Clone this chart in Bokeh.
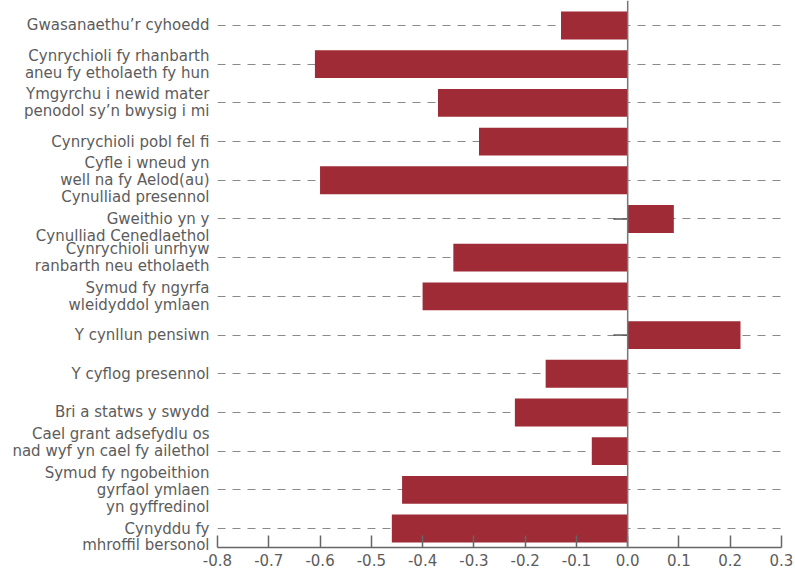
from bokeh.plotting import figure
from bokeh.models import Range1d, FixedTicker, Span, NumeralTickFormatter, ColumnDataSource
from bokeh.embed import file_html
from bokeh.resources import INLINE

categories = [
    "Gwasanaethu\u2019r cyhoedd",
    "Cynrychioli fy rhanbarth\naneu fy etholaeth fy hun",
    "Ymgyrchu i newid mater\npenodol sy\u2019n bwysig i mi",
    "Cynrychioli pobl fel fi",
    "Cyfle i wneud yn\nwell na fy Aelod(au)\nCynulliad presennol",
    "Gweithio yn y\nCynulliad Cenedlaethol",
    "Cynrychioli unrhyw\nranbarth neu etholaeth",
    "Symud fy ngyrfa\nwleidyddol ymlaen",
    "Y cynllun pensiwn",
    "Y cyflog presennol",
    "Bri a statws y swydd",
    "Cael grant adsefydlu os\nnad wyf yn cael fy ailethol",
    "Symud fy ngobeithion\ngyrfaol ymlaen\nyn gyffredinol",
    "Cynyddu fy\nmhroffil bersonol",
]
values = [-0.13, -0.61, -0.37, -0.29, -0.60, 0.09, -0.34, -0.40, 0.22, -0.16, -0.22, -0.07, -0.44, -0.46]
x_ticks = [-0.8, -0.7, -0.6, -0.5, -0.4, -0.3, -0.2, -0.1, 0.0, 0.1, 0.2, 0.3]

# labels in the source sit slightly off-centre: a blank line pushes them down / up
pad_before = {5, 13}
pad_after = {11}

positions = list(range(len(categories)))
BAR = "#9e2b35"
TXT = "#5c5c5c"
FONT = "DejaVu Sans"

overrides = {}
for i, c in enumerate(categories):
    t = c
    if i in pad_before:
        t = "\n" + t
    if i in pad_after:
        t = t + "\n"
    overrides[i] = t

src = ColumnDataSource(dict(y=positions, v=values, zero=[0.0] * len(values),
                            tick=[-0.028] * len(values)))

p = figure(width=795, height=572, output_backend="svg", toolbar_location=None,
           x_range=Range1d(x_ticks[0], x_ticks[-1]),
           y_range=Range1d(len(categories) - 1 + 0.49, -0.646),
           min_border_left=217, min_border_right=14, min_border_top=0, min_border_bottom=25)
p.outline_line_color = None
p.background_fill_color = "white"

# tick marks of the zero axis (hidden behind bars)
p.segment(x0="tick", x1="zero", y0="y", y1="y", source=src, line_color="#555555", line_width=1.5)
p.hbar(y="y", left="zero", right="v", height=0.72, source=src, fill_color=BAR, line_color=None)

p.add_layout(Span(location=0, dimension="height", line_color="#777777", line_width=1.5))

p.xgrid.visible = False
p.ygrid.ticker = FixedTicker(ticks=positions)
p.ygrid.grid_line_color = "#8a8a8a"
p.ygrid.grid_line_dash = "8 7"
p.ygrid.grid_line_width = 1.2

p.yaxis.ticker = FixedTicker(ticks=positions)
p.yaxis.major_label_overrides = overrides
p.yaxis.axis_line_color = None
p.yaxis.major_tick_line_color = None
p.yaxis.major_tick_in = 0
p.yaxis.major_tick_out = 0
p.yaxis.minor_tick_line_color = None
p.yaxis.minor_tick_in = 0
p.yaxis.minor_tick_out = 0
p.yaxis.major_label_standoff = 8
p.yaxis.major_label_text_font = FONT
p.yaxis.major_label_text_font_size = "15px"
p.yaxis.major_label_text_color = TXT
p.yaxis.major_label_text_line_height = 0.94

p.xaxis.ticker = FixedTicker(ticks=x_ticks)
p.xaxis.formatter = NumeralTickFormatter(format="0.0")
p.xaxis.axis_line_color = "#666666"
p.xaxis.axis_line_width = 1.5
p.xaxis.major_tick_line_color = "#666666"
p.xaxis.major_tick_line_width = 1.5
p.xaxis.major_tick_in = 12
p.xaxis.major_tick_out = 0
p.xaxis.minor_tick_line_color = None
p.xaxis.minor_tick_in = 0
p.xaxis.minor_tick_out = 0
p.xaxis.major_label_standoff = 6
p.xaxis.major_label_text_font = FONT
p.xaxis.major_label_text_font_size = "15px"
p.xaxis.major_label_text_color = TXT

open("out.html", "w").write(file_html(p, INLINE))
